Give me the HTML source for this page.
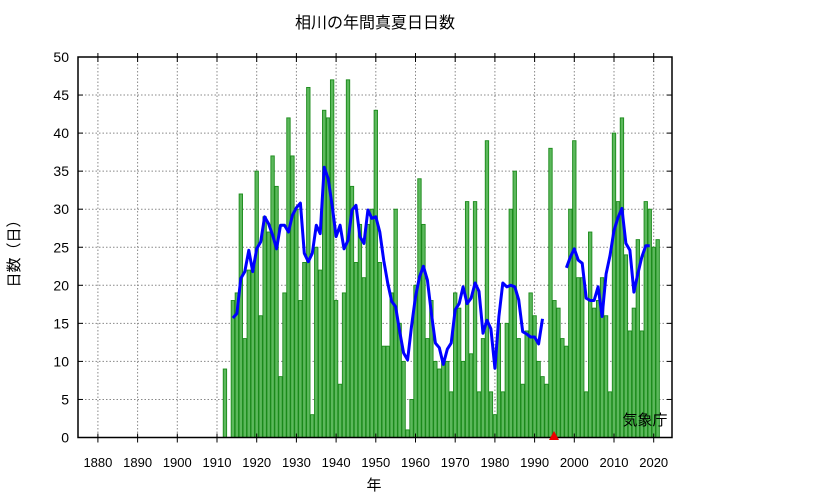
<!DOCTYPE html>
<html><head><meta charset="utf-8"><style>
body{margin:0;background:#fff;}
svg text{font-family:"Liberation Sans","Noto Sans CJK JP",sans-serif;}
</style></head><body>
<svg id="chart" width="833" height="498" xmlns="http://www.w3.org/2000/svg">
<text x="375" y="28" font-size="16" text-anchor="middle">相川の年間真夏日日数</text>
<g id="grid"></g>
<g id="bars"></g>
<g id="line"></g>
<rect x="78" y="57" width="594" height="380.5" fill="none" stroke="#000" stroke-width="1.5"/>
<g id="axes"></g>
<text x="374" y="490" font-size="15" text-anchor="middle">年</text>
<text transform="translate(19,250) rotate(-90)" font-size="15" text-anchor="middle">日数（日）</text>
<text x="645" y="425" font-size="15" text-anchor="middle">気象庁</text>
<polygon points="549,440 554,431 559,440" fill="#e00"/>
</svg>
<script>
const years = [];
for (let y = 1912; y <= 2021; y++) years.push(y);
const values = [9,null,18,19,32,13,22,22,35,16,29,27,37,33,8,19,42,37,30,18,23,46,3,25,22,43,42,47,18,7,19,47,33,23,28,21,28,30,43,23,12,12,19,30,15,10,1,5,20,34,28,13,18,10,9,10,10,6,19,17,10,31,11,31,6,13,39,6,3,15,6,15,30,35,13,7,14,19,16,10,8,7,38,18,17,13,12,30,39,21,21,6,27,17,18,21,16,6,40,31,42,24,14,17,26,14,31,30,25,26];
const maYears = [];
for (let y = 1914; y <= 2019; y++) maYears.push(y);
const maValues = [15.7,16.3,20.9,21.8,24.6,21.8,24.8,25.7,29,28.1,26.6,24.8,27.9,27.9,27,29.2,30.2,30.8,24.2,23.1,24.2,27.9,26.8,35.5,34,30.5,26.4,27.9,24.8,25.9,29.9,30.5,26.4,25.5,29.9,28.8,29,27,23.3,20.3,17.9,17.2,14,11.1,10.2,14.6,18.5,21.1,22.5,20.7,16.3,12.4,11.8,9.6,11.6,12.4,16.8,17.6,19.8,17.6,18.3,20.3,19.2,13.7,15.4,14.3,9.1,15.9,20.3,19.8,20,19.8,18.1,13.9,13.6,13.2,13.2,12.3,15.6,null,null,null,null,null,22.3,23.7,24.8,23.3,22.9,18.3,18,18,19.8,15.9,21.5,23.9,27.2,28.9,30.1,25.5,24.6,19.1,21.5,23.7,25.2,25.2];
const xTicks = [1880,1890,1900,1910,1920,1930,1940,1950,1960,1970,1980,1990,2000,2010,2020];
const yTicks = [0,5,10,15,20,25,30,35,40,45,50];

const NS = "http://www.w3.org/2000/svg";
const X0 = 78, X1 = 672, Y0 = 437.5, Y1 = 57;
function xs(yr){ return 97.9 + (yr - 1880) * 3.97; }
function ys(v){ return Y0 - (v / 50) * (Y0 - Y1); }
function mk(tag, attrs, parent){ const e = document.createElementNS(NS, tag); for (const k in attrs) e.setAttribute(k, attrs[k]); parent.appendChild(e); return e; }

const grid = document.getElementById('grid'), axes = document.getElementById('axes');
yTicks.forEach(t => {
  const y = ys(t);
  if (t > 0 && t < 50) {
    const l = mk('line', {x1:X0, x2:X1, y1:y, y2:y, stroke:'#888', 'stroke-dasharray':'1.5,2', 'stroke-width':1}, grid);
    
    
  }
  const tk = mk('line', {x1:X0, x2:X0+5, y1:y, y2:y, stroke:'#000'}, axes);
  
  
  const tk2 = mk('line', {x1:X1-5, x2:X1, y1:y, y2:y, stroke:'#000'}, axes);
  
  
  const tx = mk('text', {x:X0-9, y:y+5, 'font-size':14, 'text-anchor':'end'}, axes);
  tx.textContent = t;
  
  
});
xTicks.forEach(t => {
  const x = xs(t);
  const l = mk('line', {x1:x, x2:x, y1:Y1, y2:Y0, stroke:'#888', 'stroke-dasharray':'1.5,2', 'stroke-width':1}, grid);
  
  
  const tk = mk('line', {x1:x, x2:x, y1:Y0-4, y2:Y0+5, stroke:'#000'}, axes);
  
  
  const tk2 = mk('line', {x1:x, x2:x, y1:Y1-4, y2:Y1+5, stroke:'#000'}, axes);
  
  
  const tx = mk('text', {x:x, y:467, 'font-size':13, 'text-anchor':'middle'}, axes);
  tx.textContent = t;
  
  
});

const bars = document.getElementById('bars');
years.forEach((yr, i) => {
  const v = values[i];
  if (v == null) return;
  const x = xs(yr), y = ys(v);
  const r = mk('rect', {x:x-1.7, y:y, width:3.4, height:Y0-y, fill:'#5cb85c', stroke:'#1a8a1a', 'stroke-width':0.9}, bars);
  
  
});

const lineG = document.getElementById('line');
let d = '', pen = false;
maYears.forEach((yr, i) => {
  const v = maValues[i];
  if (v == null) { pen = false; return; }
  d += (pen ? 'L' : 'M') + xs(yr).toFixed(1) + ',' + ys(v).toFixed(1);
  pen = true;
});
const p = mk('path', {d:d, fill:'none', stroke:'#0000ff', 'stroke-width':3, 'stroke-linejoin':'round'}, lineG);


</script>
</body></html>
